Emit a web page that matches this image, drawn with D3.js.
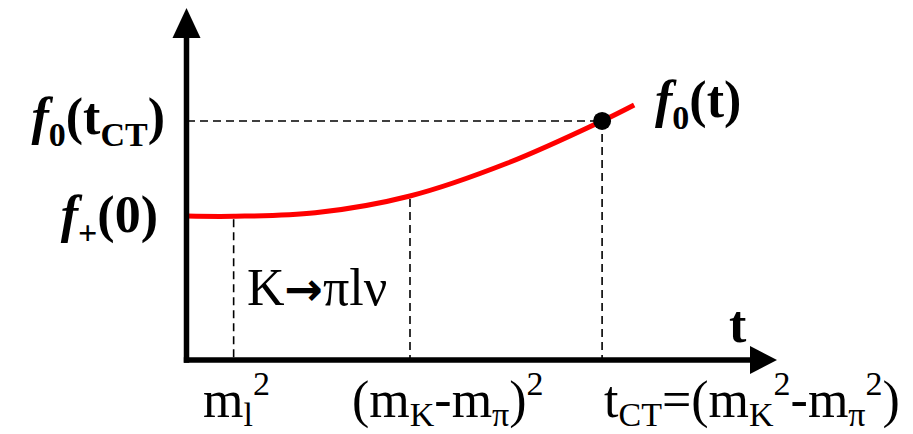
<!DOCTYPE html>
<html>
<head>
<meta charset="utf-8">
<script src="https://cdn.jsdelivr.net/npm/d3@7"></script>
<style>
  html, body { margin: 0; padding: 0; background: #fff; }
  svg { display: block; }
  text { font-family: "Liberation Serif", "Times New Roman", serif; fill: #000; }
</style>
</head>
<body>
<svg id="chart" width="913" height="434"></svg>
<script>
// Momentum transfer t (arbitrary units) and form factor f0(t) (normalised to f+(0) = 1)
const tValues  = [0, 8, 22, 38.25, 55, 71.2, 76.7];
const f0Values = [1.0, 0.998, 1.022, 1.139, 1.368, 1.66, 1.771];

// Special points on the t axis
const tickT = [8, 38.25, 71.2];
const tickF = [0.998, 1.139, 1.66];

// Callan–Treiman point
const tCT = 71.2;
const fCT = 1.66;
const fPlus0 = 1.0;

const svg = d3.select("#chart");
const x = d3.scaleLinear().domain([0, 100]).range([187, 770]);
const y = d3.scaleLinear().domain([0, 2]).range([360, 72]);

const FS = 52;      // main label size
const SUB = 34;     // sub/superscript size

// Rich-text helper: segments {t, sub, sup, i}
function rich(sel, px, py, segs, opts = {}) {
  const subDy = opts.subDy || 12;
  const txt = sel.append("text")
    .attr("x", px).attr("y", py)
    .attr("font-size", FS)
    .attr("text-anchor", opts.anchor || "start")
    .attr("font-weight", opts.bold ? "bold" : "normal");
  let shift = 0;
  segs.forEach(s => {
    const target = s.sub ? subDy : s.sup ? -22 : 0;
    const ts = txt.append("tspan")
      .attr("dy", target - shift)
      .text(s.t);
    shift = target;
    if (s.sub || s.sup) ts.attr("font-size", SUB);
    if (s.i) ts.attr("font-style", "italic");
  });
  return txt;
}

// Dashed guide lines
const guides = svg.append("g")
  .attr("stroke", "#000").attr("stroke-width", 1.6)
  .attr("stroke-dasharray", "8,5").attr("fill", "none");

guides.append("line")
  .attr("x1", x(0)).attr("x2", x(tCT))
  .attr("y1", y(fCT)).attr("y2", y(fCT));

tickT.forEach((t, k) => {
  guides.append("line")
    .attr("x1", x(t)).attr("x2", x(t))
    .attr("y1", y(tickF[k]) + (k === 2 ? 0 : 3)).attr("y2", y(0));
});

// Form factor curve
const line = d3.line()
  .x((d, k) => x(tValues[k]))
  .y(d => y(d))
  .curve(d3.curveCatmullRom.alpha(0.5));

svg.append("path")
  .datum(f0Values)
  .attr("d", line)
  .attr("fill", "none")
  .attr("stroke", "#ff0000")
  .attr("stroke-width", 5);

// Callan–Treiman point marker
svg.append("circle")
  .attr("cx", x(tCT)).attr("cy", y(fCT))
  .attr("r", 9).attr("fill", "#000");

// Axes with arrow heads
const ax = svg.append("g");
ax.append("line")
  .attr("x1", x(0) - 0.5).attr("x2", x(0) - 0.5)
  .attr("y1", 36).attr("y2", y(0) + 2.8)
  .attr("stroke", "#000").attr("stroke-width", 5.5);
ax.append("line")
  .attr("x1", x(0) - 3.2).attr("x2", 752)
  .attr("y1", y(0)).attr("y2", y(0))
  .attr("stroke", "#000").attr("stroke-width", 5.5);
ax.append("path")
  .attr("d", `M${x(0) - 0.5},8 L${x(0) + 13.5},38 L${x(0) - 14.5},38 Z`)
  .attr("fill", "#000");
ax.append("path")
  .attr("d", `M777,${y(0)} L750,${y(0) - 14} L750,${y(0) + 14} Z`)
  .attr("fill", "#000");

// Axis title
rich(svg, 729, 342, [{t: "t"}], {bold: true});

// Y-axis labels
rich(svg, 165, y(fCT) + 13, [
  {t: "f", i: true}, {t: "0", sub: true}, {t: "(t"}, {t: "CT", sub: true}, {t: ")"}
], {bold: true, anchor: "end"});
rich(svg, 158, y(fPlus0) + 16, [
  {t: "f", i: true}, {t: "+", sub: true}, {t: "(0)"}
], {bold: true, anchor: "end"});

// Curve label
rich(svg, 655, 117, [
  {t: "f", i: true}, {t: "0", sub: true}, {t: "(t)"}
], {bold: true});

// Decay region label
const reg = svg.append("text")
  .attr("x", 247).attr("y", 305).attr("font-size", FS);
reg.append("tspan").text("K");
reg.append("tspan").attr("font-weight", "bold").attr("font-family", "DejaVu Sans").attr("font-size", 46).text("\u2192");
reg.append("tspan").text("\u03c0l\u03bd");

// Tick labels on the t axis
const bottom = {subDy: 9};
rich(svg, 203, 417, [{t: "m"}, {t: "l", sub: true}, {t: "2", sup: true}], bottom);
rich(svg, 352, 417, [
  {t: "(m"}, {t: "K", sub: true}, {t: "-m"}, {t: "\u03c0", sub: true}, {t: ")"}, {t: "2", sup: true}
], bottom);
rich(svg, 604, 417, [
  {t: "t"}, {t: "CT", sub: true}, {t: "=(m"}, {t: "K", sub: true}, {t: "2", sup: true},
  {t: "-m"}, {t: "\u03c0", sub: true}, {t: "2", sup: true}, {t: ")"}
], bottom);
</script>
</body>
</html>
